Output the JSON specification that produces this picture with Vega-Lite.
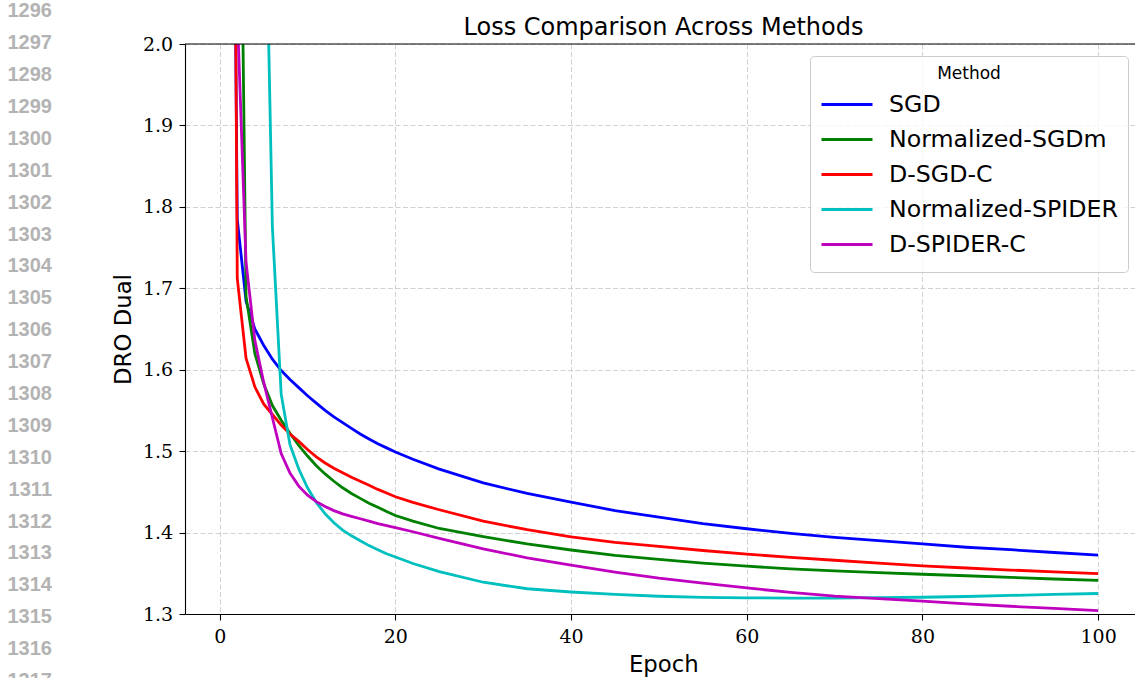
{
  "$schema": "https://vega.github.io/schema/vega-lite/v6.json",
  "padding": {"left": 0, "top": 1, "right": 0, "bottom": 0},
  "bounds": "flush",
  "spacing": 81,
  "config": {
    "view": {"stroke": null, "fill": "white"},
    "axis": {
      "domainColor": "black", "domainWidth": 1.1,
      "tickColor": "black", "tickWidth": 1.1, "tickSize": 6,
      "labelFont": "DejaVu Serif", "labelFontSize": 19, "labelColor": "black",
      "titleFont": "DejaVu Sans", "titleFontSize": 22.8, "titleFontWeight": "normal", "titleColor": "black",
      "gridColor": "#d2d2d2", "gridDash": [5, 2.5], "gridWidth": 1
    }
  },
  "hconcat": [
    {
      "width": 104,
      "height": 634,
      "data": {"values": [
        {"n": 1296}, {"n": 1297}, {"n": 1298}, {"n": 1299}, {"n": 1300}, {"n": 1301}, {"n": 1302}, {"n": 1303},
        {"n": 1304}, {"n": 1305}, {"n": 1306}, {"n": 1307}, {"n": 1308}, {"n": 1309}, {"n": 1310}, {"n": 1311},
        {"n": 1312}, {"n": 1313}, {"n": 1314}, {"n": 1315}, {"n": 1316}, {"n": 1317}
      ]},
      "layer": [
        {
          "transform": [{"filter": "datum.n < 1317"}],
          "mark": {"type": "text", "align": "right", "baseline": "middle", "font": "Liberation Sans", "fontWeight": "bold", "fontSize": 20, "color": "#b3b3b3"},
          "encoding": {
            "y": {"field": "n", "type": "quantitative", "scale": {"domain": [1297.028, 1316.903], "reverse": true, "nice": false, "zero": false}, "axis": null},
            "text": {"field": "n", "type": "quantitative", "format": "d"}
          }
        },
        {
          "transform": [{"filter": "datum.n >= 1317"}],
          "mark": {"type": "text", "align": "right", "baseline": "middle", "font": "Liberation Sans", "fontWeight": "bold", "fontSize": 20, "color": "#b3b3b3", "clip": true},
          "encoding": {
            "y": {"field": "n", "type": "quantitative", "axis": null},
            "text": {"field": "n", "type": "quantitative", "format": "d"}
          }
        }
      ]
    },
    {
      "width": 950,
      "height": 570,
      "title": {"text": "Loss Comparison Across Methods", "font": "DejaVu Sans", "fontSize": 24, "fontWeight": "normal", "color": "black", "anchor": "middle", "frame": "group", "baseline": "alphabetic", "offset": -23.6, "dx": 3.5},
      "layer": [
        {
          "data": {"values": [
            {"Epoch": 1, "SGD": 3.0, "Normalized-SGDm": 4.0, "D-SGD-C": 3.5, "Normalized-SPIDER": 4.6, "D-SPIDER-C": 5.0},
            {"Epoch": 2, "SGD": 1.785, "Normalized-SGDm": 2.59, "D-SGD-C": 1.712, "Normalized-SPIDER": 3.7, "D-SPIDER-C": 2.04},
            {"Epoch": 3, "SGD": 1.684, "Normalized-SGDm": 1.690, "D-SGD-C": 1.614, "Normalized-SPIDER": 3.05, "D-SPIDER-C": 1.732},
            {"Epoch": 4, "SGD": 1.650, "Normalized-SGDm": 1.620, "D-SGD-C": 1.579, "Normalized-SPIDER": 2.62, "D-SPIDER-C": 1.636},
            {"Epoch": 5, "SGD": 1.630, "Normalized-SGDm": 1.583, "D-SGD-C": 1.558, "Normalized-SPIDER": 2.31, "D-SPIDER-C": 1.585},
            {"Epoch": 6, "SGD": 1.613, "Normalized-SGDm": 1.556, "D-SGD-C": 1.545, "Normalized-SPIDER": 1.775, "D-SPIDER-C": 1.541},
            {"Epoch": 7, "SGD": 1.599, "Normalized-SGDm": 1.538, "D-SGD-C": 1.532, "Normalized-SPIDER": 1.570, "D-SPIDER-C": 1.497},
            {"Epoch": 8, "SGD": 1.588, "Normalized-SGDm": 1.522, "D-SGD-C": 1.521, "Normalized-SPIDER": 1.508, "D-SPIDER-C": 1.473},
            {"Epoch": 9, "SGD": 1.578, "Normalized-SGDm": 1.507, "D-SGD-C": 1.512, "Normalized-SPIDER": 1.478, "D-SPIDER-C": 1.457},
            {"Epoch": 10, "SGD": 1.568, "Normalized-SGDm": 1.494, "D-SGD-C": 1.502, "Normalized-SPIDER": 1.455, "D-SPIDER-C": 1.446},
            {"Epoch": 11, "SGD": 1.559, "Normalized-SGDm": 1.482, "D-SGD-C": 1.493, "Normalized-SPIDER": 1.437, "D-SPIDER-C": 1.438},
            {"Epoch": 12, "SGD": 1.550, "Normalized-SGDm": 1.472, "D-SGD-C": 1.4855, "Normalized-SPIDER": 1.423, "D-SPIDER-C": 1.432},
            {"Epoch": 13, "SGD": 1.542, "Normalized-SGDm": 1.463, "D-SGD-C": 1.479, "Normalized-SPIDER": 1.412, "D-SPIDER-C": 1.427},
            {"Epoch": 14, "SGD": 1.535, "Normalized-SGDm": 1.455, "D-SGD-C": 1.4735, "Normalized-SPIDER": 1.403, "D-SPIDER-C": 1.423},
            {"Epoch": 15, "SGD": 1.528, "Normalized-SGDm": 1.448, "D-SGD-C": 1.468, "Normalized-SPIDER": 1.396, "D-SPIDER-C": 1.420},
            {"Epoch": 16, "SGD": 1.521, "Normalized-SGDm": 1.442, "D-SGD-C": 1.463, "Normalized-SPIDER": 1.390, "D-SPIDER-C": 1.417},
            {"Epoch": 17, "SGD": 1.515, "Normalized-SGDm": 1.436, "D-SGD-C": 1.458, "Normalized-SPIDER": 1.384, "D-SPIDER-C": 1.414},
            {"Epoch": 18, "SGD": 1.509, "Normalized-SGDm": 1.431, "D-SGD-C": 1.453, "Normalized-SPIDER": 1.379, "D-SPIDER-C": 1.411},
            {"Epoch": 19, "SGD": 1.504, "Normalized-SGDm": 1.426, "D-SGD-C": 1.4485, "Normalized-SPIDER": 1.374, "D-SPIDER-C": 1.4085},
            {"Epoch": 20, "SGD": 1.499, "Normalized-SGDm": 1.421, "D-SGD-C": 1.444, "Normalized-SPIDER": 1.370, "D-SPIDER-C": 1.406},
            {"Epoch": 22, "SGD": 1.490, "Normalized-SGDm": 1.414, "D-SGD-C": 1.437, "Normalized-SPIDER": 1.362, "D-SPIDER-C": 1.401},
            {"Epoch": 25, "SGD": 1.478, "Normalized-SGDm": 1.405, "D-SGD-C": 1.428, "Normalized-SPIDER": 1.352, "D-SPIDER-C": 1.393},
            {"Epoch": 30, "SGD": 1.461, "Normalized-SGDm": 1.395, "D-SGD-C": 1.414, "Normalized-SPIDER": 1.339, "D-SPIDER-C": 1.380},
            {"Epoch": 35, "SGD": 1.448, "Normalized-SGDm": 1.386, "D-SGD-C": 1.4035, "Normalized-SPIDER": 1.331, "D-SPIDER-C": 1.369},
            {"Epoch": 40, "SGD": 1.4375, "Normalized-SGDm": 1.3786, "D-SGD-C": 1.3946, "Normalized-SPIDER": 1.327, "D-SPIDER-C": 1.360},
            {"Epoch": 45, "SGD": 1.427, "Normalized-SGDm": 1.372, "D-SGD-C": 1.388, "Normalized-SPIDER": 1.324, "D-SPIDER-C": 1.3515},
            {"Epoch": 50, "SGD": 1.419, "Normalized-SGDm": 1.367, "D-SGD-C": 1.383, "Normalized-SPIDER": 1.3218, "D-SPIDER-C": 1.344},
            {"Epoch": 55, "SGD": 1.411, "Normalized-SGDm": 1.3625, "D-SGD-C": 1.378, "Normalized-SPIDER": 1.3205, "D-SPIDER-C": 1.338},
            {"Epoch": 60, "SGD": 1.4047, "Normalized-SGDm": 1.3587, "D-SGD-C": 1.3736, "Normalized-SPIDER": 1.3198, "D-SPIDER-C": 1.332},
            {"Epoch": 65, "SGD": 1.399, "Normalized-SGDm": 1.3555, "D-SGD-C": 1.3695, "Normalized-SPIDER": 1.3195, "D-SPIDER-C": 1.3265},
            {"Epoch": 70, "SGD": 1.394, "Normalized-SGDm": 1.353, "D-SGD-C": 1.366, "Normalized-SPIDER": 1.3195, "D-SPIDER-C": 1.322},
            {"Epoch": 75, "SGD": 1.390, "Normalized-SGDm": 1.3508, "D-SGD-C": 1.3625, "Normalized-SPIDER": 1.320, "D-SPIDER-C": 1.319},
            {"Epoch": 80, "SGD": 1.386, "Normalized-SGDm": 1.3488, "D-SGD-C": 1.359, "Normalized-SPIDER": 1.3206, "D-SPIDER-C": 1.3157},
            {"Epoch": 85, "SGD": 1.382, "Normalized-SGDm": 1.347, "D-SGD-C": 1.3565, "Normalized-SPIDER": 1.3215, "D-SPIDER-C": 1.3125},
            {"Epoch": 90, "SGD": 1.379, "Normalized-SGDm": 1.345, "D-SGD-C": 1.354, "Normalized-SPIDER": 1.3228, "D-SPIDER-C": 1.3095},
            {"Epoch": 95, "SGD": 1.3755, "Normalized-SGDm": 1.343, "D-SGD-C": 1.3517, "Normalized-SPIDER": 1.324, "D-SPIDER-C": 1.3068},
            {"Epoch": 100, "SGD": 1.3724, "Normalized-SGDm": 1.3413, "D-SGD-C": 1.3496, "Normalized-SPIDER": 1.3252, "D-SPIDER-C": 1.3042}
          ]},
          "transform": [{"fold": ["SGD", "Normalized-SGDm", "D-SGD-C", "Normalized-SPIDER", "D-SPIDER-C"], "as": ["Method", "Loss"]}],
          "mark": {"type": "line", "strokeWidth": 2.8, "clip": true},
          "encoding": {
            "x": {"field": "Epoch", "type": "quantitative", "scale": {"domain": [-3.95, 104.2], "nice": false, "zero": false},
                  "axis": {"values": [0, 20, 40, 60, 80, 100], "format": "d", "grid": true, "labelPadding": 7, "labelFlush": false, "title": "Epoch", "titleX": 478.3, "titleY": 57.7, "titleBaseline": "alphabetic"}},
            "y": {"field": "Loss", "type": "quantitative", "scale": {"domain": [1.3, 2.0], "nice": false, "zero": false},
                  "axis": {"values": [1.3, 1.4, 1.5, 1.6, 1.7, 1.8, 1.9, 2.0], "format": ".1f", "grid": true, "labelPadding": 6.3, "labelFlush": false, "title": "DRO Dual", "titleX": -55, "titleBaseline": "alphabetic"}},
            "color": {"field": "Method", "type": "nominal",
                      "scale": {"domain": ["SGD", "Normalized-SGDm", "D-SGD-C", "Normalized-SPIDER", "D-SPIDER-C"], "range": ["#0000ff", "#008000", "#ff0000", "#00bfbf", "#bf00bf"]},
                      "legend": {"orient": "none", "legendX": 810, "legendY": 12, "title": "Method", "titleFont": "DejaVu Sans", "titleFontSize": 17, "titleFontWeight": "normal", "titleColor": "black", "titleAnchor": "middle", "titlePadding": 4,
                                 "labelFont": "DejaVu Sans", "labelFontSize": 23.7, "labelColor": "black", "labelOffset": 15, "labelLimit": 400,
                                 "symbolType": "stroke", "symbolSize": 2601, "symbolStrokeWidth": 2.8, "rowPadding": 0, "clipHeight": 35,
                                 "padding": 10, "cornerRadius": 4, "strokeColor": "#cccccc", "fillColor": "rgba(255,255,255,0.8)"}}
          }
        },
        {
          "data": {"values": [{}]},
          "mark": {"type": "rule", "color": "black", "strokeWidth": 1.1},
          "encoding": {"y": {"datum": 2.0}}
        }
      ]
    }
  ]
}
